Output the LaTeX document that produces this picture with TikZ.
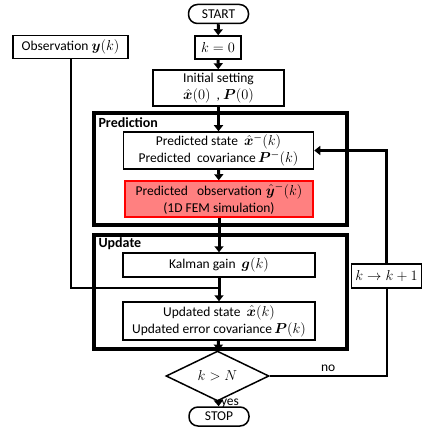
\documentclass[tikz,border=0pt]{standalone}
\usepackage{fontspec}
\setmainfont{Carlito}
\usepackage{bm}
\usetikzlibrary{arrows.meta, shapes.geometric}
\definecolor{simred}{RGB}{255,128,128}

\begin{document}
\begin{tikzpicture}[x=1pt, y=-1pt, line join=miter,
		every node/.style={font=\fontsize{13.5}{17}\selectfont},
		box/.style={draw=black, fill=white, line width=1.5pt, align=center, inner sep=0pt},
		terminal/.style={box, rounded corners=9pt, minimum width=60pt, minimum height=19pt},
		group/.style={draw=black, line width=4pt, inner sep=0pt},
		grouplabel/.style={anchor=west, font=\fontsize{14}{17}\selectfont\bfseries},
		flow/.style={line width=3pt, -{Triangle[width=9pt,length=6pt]}},
		link/.style={line width=2pt}]
	\useasboundingbox (0, 0) rectangle (422, 427);
	% Groups
	\node [group, minimum width=253pt, minimum height=112pt] (pred) at (220.5, 169) {};
	\node [group, minimum width=253pt, minimum height=114.5pt] (upd) at (220.5, 291.75) {};
	\node [grouplabel] (pred-label) at (95, 123) {Prediction};
	\node [grouplabel] (upd-label) at (95, 243.5) {Update};
	% Start and initial steps
	\node [terminal] (start) at (218.5, 14) {START};
	\node [box, minimum width=46pt, minimum height=23pt] (kzero) at (218, 47.5) {$k=0$};
	\node [box, minimum width=115pt, minimum height=23pt] (obs) at (70.5, 47) {Observation $\bm{y}(k)$};
	\node [box, minimum width=131pt, minimum height=36pt] (init) at (218.5, 88) {Initial setting\\[0pt]$\hat{\bm{x}}(0)$~~,~$\bm{P}(0)$};
	% Prediction steps
	\node [box, minimum width=190pt, minimum height=37pt] (predstate) at (218.5, 150.5) {Predicted state~~$\hat{\bm{x}}^{\bm{-}}(k)$\\[0pt]Predicted~~covariance\,$\bm{P}^{\bm{-}}(k)$};
	\node [box, draw=red, fill=simred, minimum width=188pt, minimum height=36pt] (predobs) at (219, 199) {Predicted~~~observation\;$\hat{\bm{y}}^{\bm{-}}(k)$\\[0pt](1D FEM simulation)};
	% Update steps
	\node [box, minimum width=192pt, minimum height=24pt] (kalman) at (219, 265) {Kalman gain~~$\bm{g}(k)$};
	\node [box, minimum width=192pt, minimum height=38pt] (updstate) at (219, 321) {Updated state~~$\hat{\bm{x}}(k)$\\[0pt]Updated error covariance\,$\bm{P}(k)$};
	% Loop check and end
	\node [diamond, draw=black, fill=white, line width=1.5pt, inner sep=0pt, minimum width=103pt, minimum height=34pt] (check) at (217.5, 376) {$k>N$};
	\node [terminal] (stop) at (219, 416.5) {STOP};
	\node [box, minimum width=70pt, minimum height=24pt] (kinc) at (386.5, 276) {$k\rightarrow k+1$};
	\coordinate (merge) at (219, 288);
	% Arrows
	\draw [flow] (start) -- (kzero);
	\draw [flow] (kzero) -- (init);
	\draw [flow] (init) -- (predstate);
	\draw [flow] (predstate) -- (predobs);
	\draw [flow] (predobs) -- (kalman);
	\draw [line width=3pt] (kalman) -- (merge);
	\draw [flow] (merge) -- (updstate);
	\draw [flow] (updstate) -- (check);
	\draw [flow] (check) -- node [right, inner sep=1pt, pos=0.4] (yes) {yes} (stop);
	\draw [link] (obs) |- (merge);
	\draw [link] (check.east) -- node [above, pos=0.5] (no) {no} (check.east -| kinc) -- (kinc);
	\draw [link, line width=2.5pt, -{Triangle[width=9pt,length=6pt]}] (kinc) |- (predstate.east);
\end{tikzpicture}
\end{document}
